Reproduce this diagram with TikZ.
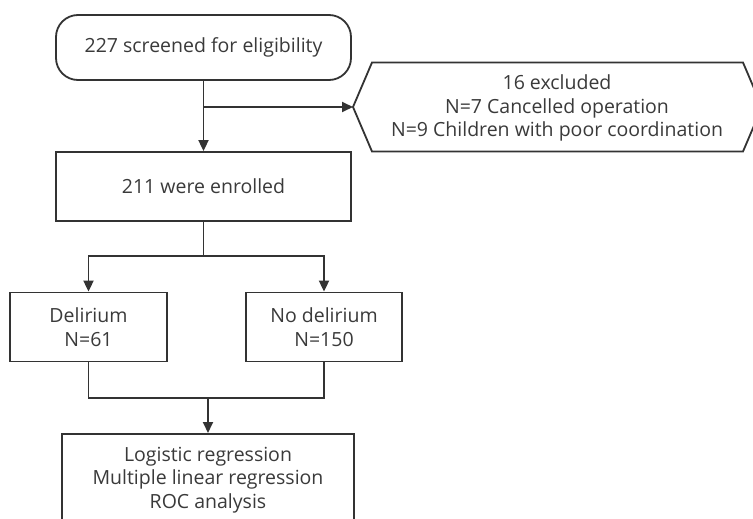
\documentclass[tikz,border=0pt]{standalone}
\usepackage{fontspec}
\setmainfont{Open Sans}
\usetikzlibrary{arrows.meta}
\definecolor{ln}{HTML}{333333}
\definecolor{tx}{HTML}{3A3A3A}
\begin{document}
\begin{tikzpicture}[x=1pt,y=-1pt,
  every node/.style={font=\fontsize{19.5}{23.5}\selectfont, text=tx, align=center, inner sep=0pt},
  boxa/.style={draw=ln, line width=1.8pt, rectangle, minimum width=#1, minimum height=69pt},
  conn/.style={draw=ln, line width=1.8pt},
  arr/.style={conn, -{Triangle[length=11pt,width=10pt]}}]
\useasboundingbox (0,0) rectangle (753,519);
\fill[white] (0,0) rectangle (753,519);
% top rounded box
\node[draw=ln, line width=1.8pt, rounded corners=22pt, minimum width=295pt, minimum height=65pt] (screen) at (203.5,47.5) {227 screened for eligibility};
% hexagon
\draw[conn] (353,107) -- (372,62.5) -- (743,62.5) -- (762,107) -- (743,151.5) -- (372,151.5) -- cycle;
\node (excl) at (557,108) {16 excluded\\N=7 Cancelled operation\\N=9 Children with poor coordination};
\coordinate (exclL) at (353,107);
% enrolled
\node[boxa=295pt] (enr) at (203.5,186.5) {211 were enrolled};
\node[boxa=157pt, minimum height=69pt] (del) at (88.5,327) {Delirium\\N=61};
\node[boxa=156pt, minimum height=69pt] (nodel) at (324,327) {No delirium\\N=150};
\node[draw=ln, line width=1.8pt, minimum width=292pt, minimum height=120pt, anchor=north] (ana) at (208,433) {};
\node (anatxt) at (208,480) {Logistic regression\\Multiple linear regression\\ROC analysis};
% connectors
\coordinate (br1) at (203.5,107);
\draw[arr] (screen.south) -- (enr.north);
\draw[arr] (br1) -- (exclL);
\coordinate (sp) at (203.5,256);
\draw[conn] (enr.south) -- (sp);
\draw[arr] (sp) -| (del.north);
\draw[arr] (sp) -| (nodel.north);
\coordinate (jn) at (208,398);
\draw[conn] (del.south) |- (jn);
\draw[conn] (nodel.south) |- (jn);
\draw[arr] (jn) -- (ana.north);
\end{tikzpicture}
\end{document}
